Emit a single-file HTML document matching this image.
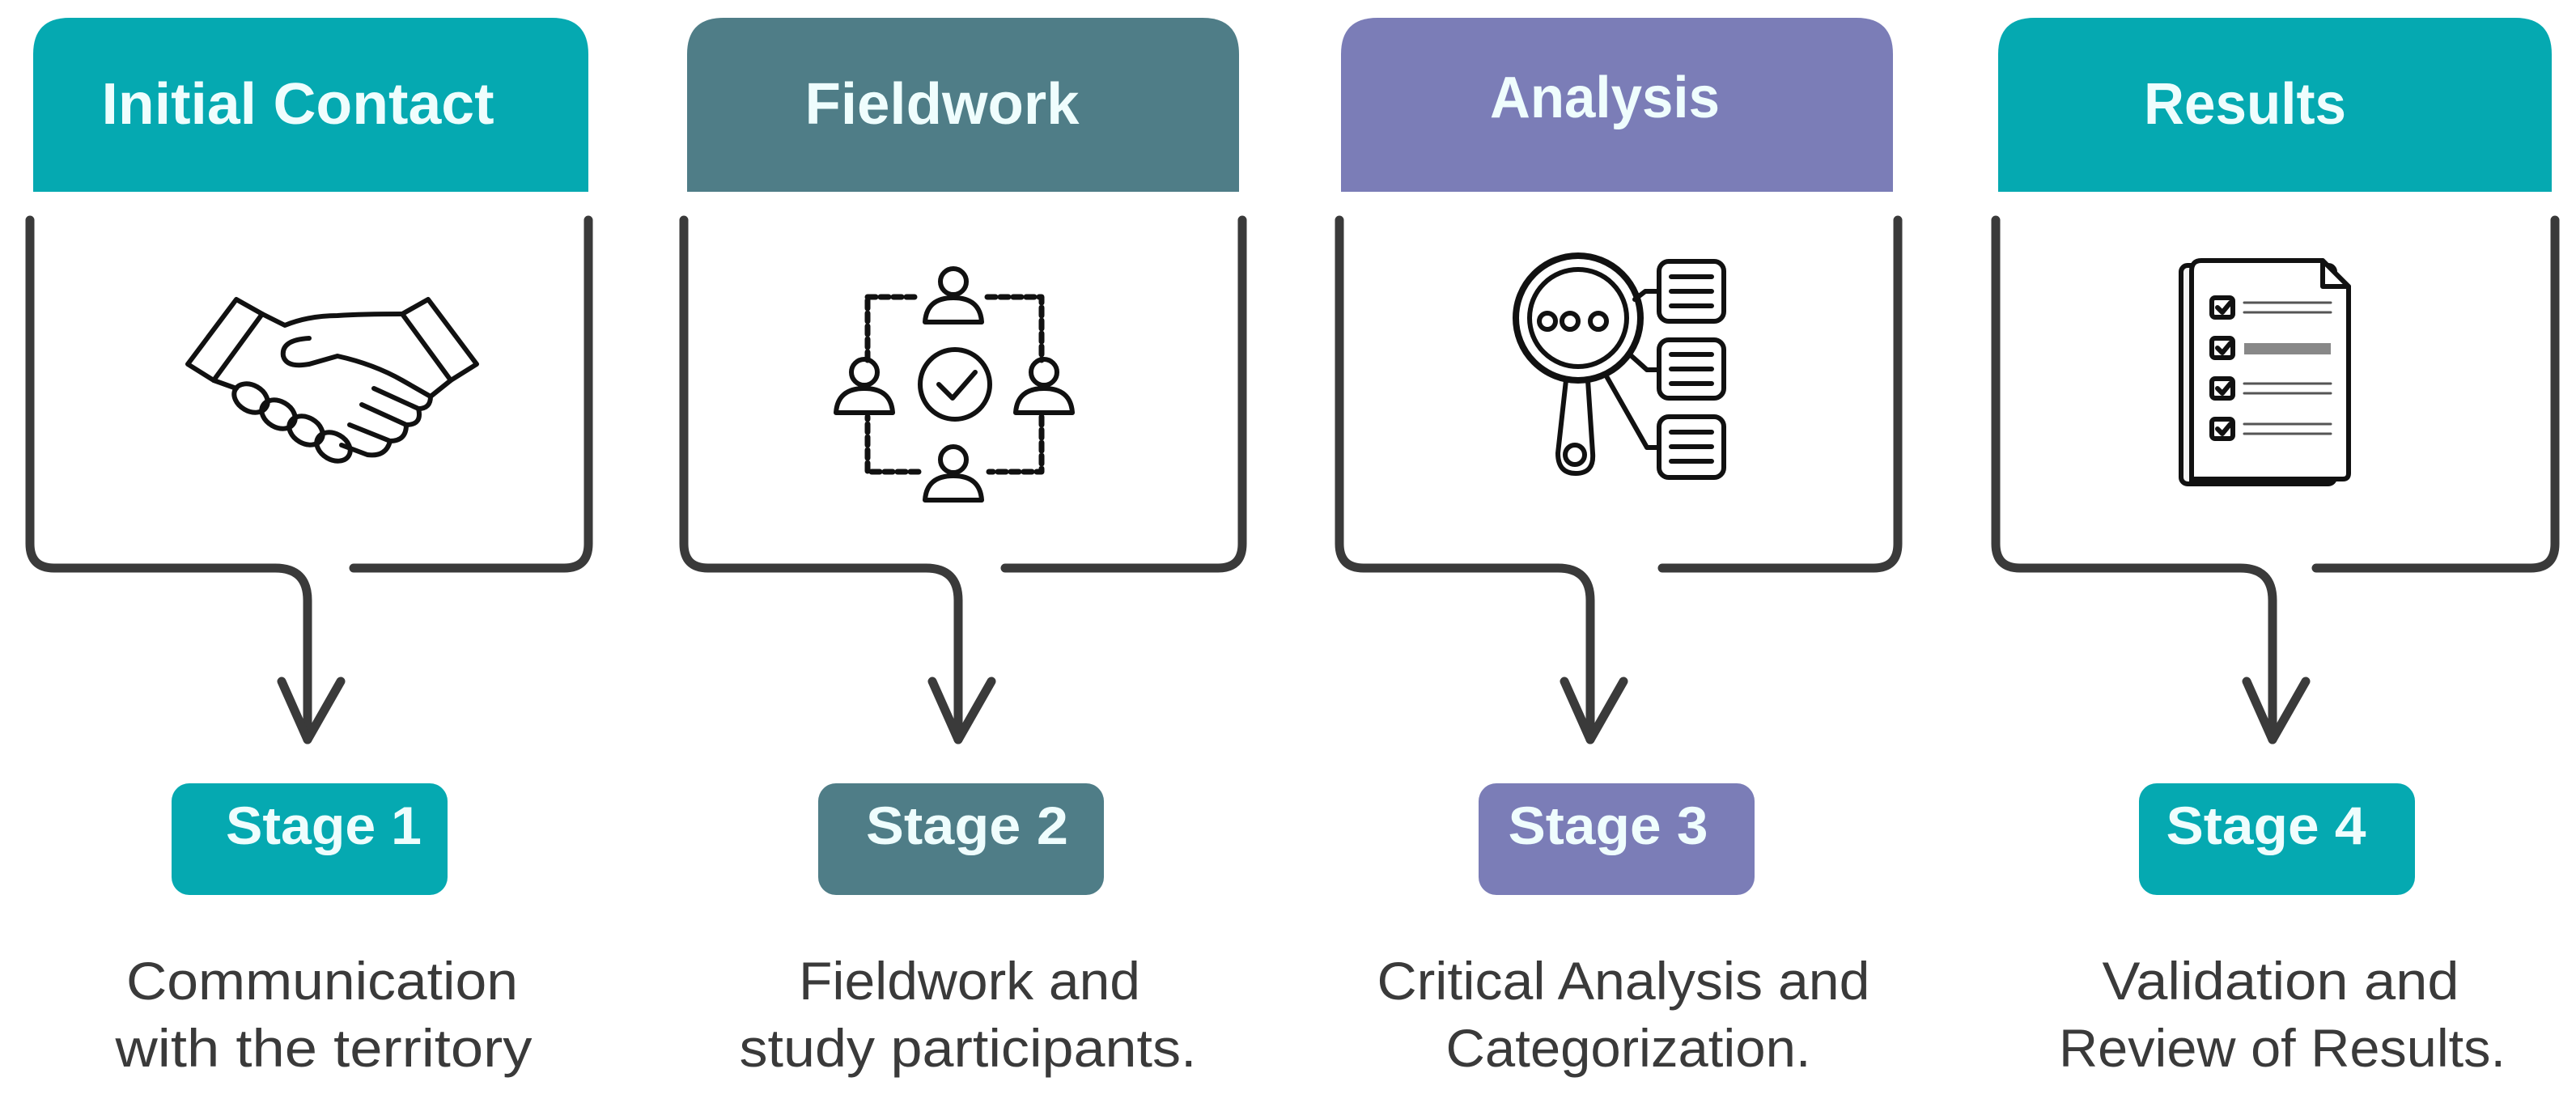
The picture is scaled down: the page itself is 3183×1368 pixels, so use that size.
<!DOCTYPE html>
<html><head><meta charset="utf-8"><style>
html,body{margin:0;padding:0;background:#fff;}
svg{display:block;}
.h{font-family:"Liberation Sans",sans-serif;font-weight:bold;font-size:72px;fill:#effdfd;text-anchor:middle;}
.s{font-family:"Liberation Sans",sans-serif;font-weight:bold;font-size:66px;fill:#effdfd;text-anchor:middle;}
.d{font-family:"Liberation Sans",sans-serif;font-size:66px;fill:#3a3a3a;text-anchor:middle;}
.fr{fill:none;stroke:#3a3a3a;stroke-width:11;stroke-linecap:round;stroke-linejoin:round;}
.ic{fill:none;stroke:#111;stroke-width:6;stroke-linejoin:round;stroke-linecap:round;}
</style></head><body>
<svg width="3183" height="1368" viewBox="0 0 3183 1368" xmlns="http://www.w3.org/2000/svg">
<rect width="3183" height="1368" fill="#fff"/>
<!-- Headers -->
<path d="M41 237 V67 Q41 22 86 22 H682 Q727 22 727 67 V237 Z" fill="#05a9b1"/>
<path d="M849 237 V67 Q849 22 894 22 H1486 Q1531 22 1531 67 V237 Z" fill="#4f7d87"/>
<path d="M1657 237 V67 Q1657 22 1702 22 H2294 Q2339 22 2339 67 V237 Z" fill="#7b7db7"/>
<path d="M2469 237 V67 Q2469 22 2514 22 H3108 Q3153 22 3153 67 V237 Z" fill="#05a9b1"/>
<text class="h" x="368" y="153" textLength="485" lengthAdjust="spacingAndGlyphs">Initial Contact</text>
<text class="h" x="1164" y="153" textLength="339" lengthAdjust="spacingAndGlyphs">Fieldwork</text>
<text class="h" x="1983" y="145" textLength="284" lengthAdjust="spacingAndGlyphs">Analysis</text>
<text class="h" x="2774" y="153" textLength="250" lengthAdjust="spacingAndGlyphs">Results</text>

<!-- Frames + arrows -->
<g class="fr">
<path d="M37 272 V672 Q37 702 67 702 H340 Q380 702 380 742 V914"/><path d="M348 842 L380 914 L421 842"/><path d="M437 702 H697 Q727 702 727 672 V272"/>
<path d="M845 272 V672 Q845 702 875 702 H1144 Q1184 702 1184 742 V914"/><path d="M1152 842 L1184 914 L1225 842"/><path d="M1242 702 H1505 Q1535 702 1535 672 V272"/>
<path d="M1655 272 V672 Q1655 702 1685 702 H1925 Q1965 702 1965 742 V914"/><path d="M1933 842 L1965 914 L2006 842"/><path d="M2054 702 H2315 Q2345 702 2345 672 V272"/>
<path d="M2466 272 V672 Q2466 702 2496 702 H2768 Q2808 702 2808 742 V914"/><path d="M2776 842 L2808 914 L2849 842"/><path d="M2862 702 H3127 Q3157 702 3157 672 V272"/>
</g>

<!-- Stage boxes -->
<rect x="212" y="968" width="341" height="138" rx="22" fill="#05a9b1"/>
<rect x="1011" y="968" width="353" height="138" rx="22" fill="#4f7d87"/>
<rect x="1827" y="968" width="341" height="138" rx="22" fill="#7b7db7"/>
<rect x="2643" y="968" width="341" height="138" rx="22" fill="#05a9b1"/>
<text class="s" x="400" y="1043" textLength="242" lengthAdjust="spacingAndGlyphs">Stage 1</text>
<text class="s" x="1195" y="1043" textLength="250" lengthAdjust="spacingAndGlyphs">Stage 2</text>
<text class="s" x="1987" y="1043" textLength="247" lengthAdjust="spacingAndGlyphs">Stage 3</text>
<text class="s" x="2800" y="1043" textLength="247" lengthAdjust="spacingAndGlyphs">Stage 4</text>

<!-- Descriptions -->
<text class="d" x="398" y="1235" textLength="484" lengthAdjust="spacingAndGlyphs">Communication</text>
<text class="d" x="400" y="1318" textLength="515" lengthAdjust="spacingAndGlyphs">with the territory</text>
<text class="d" x="1198" y="1235" textLength="422" lengthAdjust="spacingAndGlyphs">Fieldwork and</text>
<text class="d" x="1196" y="1318" textLength="565" lengthAdjust="spacingAndGlyphs">study participants.</text>
<text class="d" x="2006" y="1235" textLength="609" lengthAdjust="spacingAndGlyphs">Critical Analysis and</text>
<text class="d" x="2012" y="1318" textLength="451" lengthAdjust="spacingAndGlyphs">Categorization.</text>
<text class="d" x="2818" y="1235" textLength="441" lengthAdjust="spacingAndGlyphs">Validation and</text>
<text class="d" x="2820" y="1318" textLength="552" lengthAdjust="spacingAndGlyphs">Review of Results.</text>

<!-- Icon 1: handshake -->
<g class="ic" transform="translate(232,340)">
<polygon points="0,110 60,30 92,48 32,130"/>
<polygon points="357,110 297,30 265,48 325,130"/>
<path d="M92,48 L120,62 Q150,50 185,50 Q215,48 265,48"/>
<path d="M32,130 L60,140"/>
<path d="M150,78 Q115,80 118,100 Q122,115 150,110 L185,100 Q230,110 265,130 L300,150 L325,130"/>
<path d="M300,150 Q300,165 285,165 L230,140"/>
<path d="M285,165 Q290,185 270,185 L215,160"/>
<path d="M270,185 Q270,205 250,205 L200,185"/>
<path d="M250,205 Q245,225 222,222 L190,210"/>
<ellipse cx="78" cy="152" rx="22" ry="16" transform="rotate(30 78 152)"/>
<ellipse cx="112" cy="172" rx="22" ry="16" transform="rotate(30 112 172)"/>
<ellipse cx="146" cy="192" rx="22" ry="16" transform="rotate(30 146 192)"/>
<ellipse cx="180" cy="212" rx="22" ry="16" transform="rotate(30 180 212)"/>
</g>

<!-- Icon 2: network -->
<g class="ic">
<path d="M1072 367 H1135 M1220 367 H1287 V445 M1287 515 V583 H1222 M1135 583 H1072 V515 M1072 445 V367" stroke-dasharray="10 6" stroke-width="7"/>
<circle cx="1180" cy="475" r="43"/>
<path d="M1160 475 L1177 492 L1205 460"/>
<circle cx="1178" cy="348" r="16"/><path d="M1143 398 Q1145 368 1178 368 Q1211 368 1213 398 Z"/>
<circle cx="1068" cy="460" r="16"/><path d="M1033 510 Q1035 480 1068 480 Q1101 480 1103 510 Z"/>
<circle cx="1290" cy="460" r="16"/><path d="M1255 510 Q1257 480 1290 480 Q1323 480 1325 510 Z"/>
<circle cx="1178" cy="568" r="16"/><path d="M1143 618 Q1145 588 1178 588 Q1211 588 1213 618 Z"/>
</g>

<!-- Icon 3: magnifier -->
<g class="ic">
<circle cx="1950" cy="393" r="77" stroke-width="8"/>
<circle cx="1950" cy="393" r="60"/>
<circle cx="1912" cy="397" r="10"/><circle cx="1940" cy="397" r="10"/><circle cx="1975" cy="397" r="10"/>
<path d="M1935 470 L1925 560 Q1925 585 1947 585 Q1970 585 1968 560 L1962 470"/>
<circle cx="1946" cy="562" r="12"/>
<rect x="2050" y="323" width="80" height="74" rx="12"/>
<rect x="2050" y="420" width="80" height="72" rx="12"/>
<rect x="2050" y="515" width="80" height="75" rx="12"/>
<path d="M2065 342 H2115 M2065 360 H2115 M2065 378 H2115"/>
<path d="M2065 438 H2115 M2065 456 H2115 M2065 474 H2115"/>
<path d="M2065 534 H2115 M2065 552 H2115 M2065 570 H2115"/>
<path d="M2020 370 L2033 360 H2050 M2016 440 L2035 457 H2050 M1985 465 L2035 553 H2050"/>
</g>

<!-- Icon 4: document -->
<g class="ic" stroke-width="5">
<rect x="2695" y="328" width="190" height="270" rx="8" fill="#f4f4f4"/>
<path d="M2708 598 V335 Q2708 322 2720 322 H2870 L2902 354 V585 Q2902 592 2895 592 H2708" fill="#fff"/>
<path d="M2870 322 V354 H2902"/>
<rect x="2733" y="368" width="26" height="24" rx="4"/><path d="M2740 380 l6 6 l10 -12"/>
<rect x="2733" y="418" width="26" height="24" rx="4"/><path d="M2740 430 l6 6 l10 -12"/>
<rect x="2733" y="468" width="26" height="24" rx="4"/><path d="M2740 480 l6 6 l10 -12"/>
<rect x="2733" y="518" width="26" height="24" rx="4"/><path d="M2740 530 l6 6 l10 -12"/>
<path d="M2773 374 H2880 M2773 386 H2880" stroke="#555" stroke-width="3"/>
<rect x="2773" y="424" width="107" height="14" fill="#888" stroke="none"/>
<path d="M2773 474 H2880 M2773 486 H2880" stroke="#555" stroke-width="3"/>
<path d="M2773 524 H2880 M2773 536 H2880" stroke="#555" stroke-width="3"/>
</g>
</svg>
</body></html>
